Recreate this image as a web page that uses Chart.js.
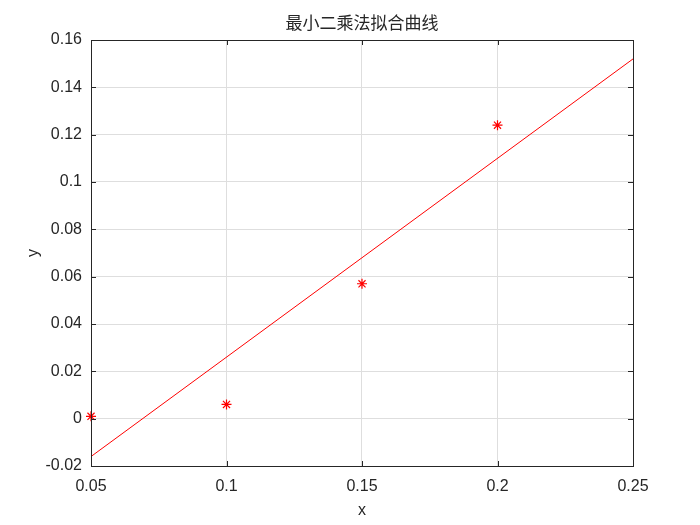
<!DOCTYPE html>
<html>
<head>
<meta charset="utf-8">
<script src="https://cdn.jsdelivr.net/npm/chart.js@4/dist/chart.umd.min.js"></script>
<style>
  html, body { margin: 0; padding: 0; background: #fff; }
  #wrap { width: 700px; height: 525px; }
</style>
</head>
<body>
<div id="wrap"><canvas id="chart"></canvas></div>
<script>
// --- data ---
const sampleX = [0.05, 0.1, 0.15, 0.2];
const sampleY = [0.001, 0.006, 0.057, 0.124];
const fitX = [0.05, 0.25];
const fitY = [-0.016, 0.152];
const xTicks = [0.05, 0.1, 0.15, 0.2, 0.25];
const yTicks = [-0.02, 0, 0.02, 0.04, 0.06, 0.08, 0.1, 0.12, 0.14, 0.16];
const titleText = '最小二乘法拟合曲线';

const tickFont = { family: 'Liberation Sans, Arial, sans-serif', size: 16 };

// box round the plot and inward tick marks, like the original figure
const boxPlugin = {
    id: 'box',
    afterDatasetsDraw(chart) {
        const { ctx, chartArea: a, scales } = chart;
        ctx.save();
        ctx.strokeStyle = '#262626';
        ctx.lineWidth = 1;
        ctx.beginPath();
        scales.x.ticks.forEach(t => {
            const px = Math.round(scales.x.getPixelForValue(t.value)) + 0.5;
            ctx.moveTo(px, a.bottom); ctx.lineTo(px, a.bottom - 5);
            ctx.moveTo(px, a.top); ctx.lineTo(px, a.top + 5);
        });
        scales.y.ticks.forEach(t => {
            const py = Math.round(scales.y.getPixelForValue(t.value)) + 0.5;
            ctx.moveTo(a.left, py); ctx.lineTo(a.left + 5, py);
            ctx.moveTo(a.right, py); ctx.lineTo(a.right - 5, py);
        });
        ctx.stroke();
        ctx.strokeRect(Math.round(a.left) + 0.5, Math.round(a.top) + 0.5,
            Math.round(a.right - a.left), Math.round(a.bottom - a.top));
        ctx.restore();
    }
};

new Chart(document.getElementById('chart'), {
    data: {
        datasets: [
            {
                type: 'scatter',
                data: sampleX.map((x, i) => ({ x, y: sampleY[i] })),
                pointStyle: 'star',
                pointRadius: 5,
                borderColor: '#ff0000',
                backgroundColor: '#ff0000',
                borderWidth: 1.2,
                clip: false
            },
            {
                type: 'line',
                data: fitX.map((x, i) => ({ x, y: fitY[i] })),
                borderColor: '#ff0000',
                borderWidth: 1,
                pointRadius: 0,
                fill: false
            }
        ]
    },
    options: {
        responsive: true,
        maintainAspectRatio: false,
        animation: false,
        layout: { padding: { left: 0, right: 67, top: 0, bottom: 0 } },
        plugins: {
            legend: { display: false },
            tooltip: { enabled: false },
            title: {
                display: true,
                text: titleText,
                fullSize: false,
                color: '#262626',
                font: { family: 'Noto Sans CJK SC', size: 17, weight: 'normal', lineHeight: 1.2 },
                padding: { top: 12, bottom: 7.6 }
            }
        },
        scales: {
            x: {
                type: 'linear',
                min: 0.05,
                max: 0.25,
                afterBuildTicks: s => { s.ticks = xTicks.map(v => ({ value: v })); },
                afterFit: s => { s.height = 59; },
                grid: { color: '#dedede', drawTicks: false },
                border: { display: false },
                ticks: {
                    color: '#262626',
                    font: tickFont,
                    padding: 11,
                    maxRotation: 0,
                    callback: v => String(+v.toFixed(2))
                },
                title: {
                    display: true,
                    text: 'x',
                    color: '#262626',
                    font: { family: 'Liberation Sans, Arial, sans-serif', size: 16, lineHeight: 1.2 },
                    padding: { top: 0, bottom: 5 }
                }
            },
            y: {
                type: 'linear',
                min: -0.02,
                max: 0.16,
                afterBuildTicks: s => { s.ticks = yTicks.map(v => ({ value: v })); },
                afterFit: s => { s.width = 91; },
                grid: { color: '#dedede', drawTicks: false },
                border: { display: false },
                ticks: {
                    color: '#262626',
                    font: tickFont,
                    padding: 9,
                    callback: v => String(+v.toFixed(2))
                },
                title: {
                    display: true,
                    text: 'y',
                    color: '#262626',
                    font: { family: 'Liberation Sans, Arial, sans-serif', size: 16, lineHeight: 1.2 },
                    padding: { top: 24, bottom: 0 }
                }
            }
        }
    },
    plugins: [boxPlugin]
});
</script>
</body>
</html>
